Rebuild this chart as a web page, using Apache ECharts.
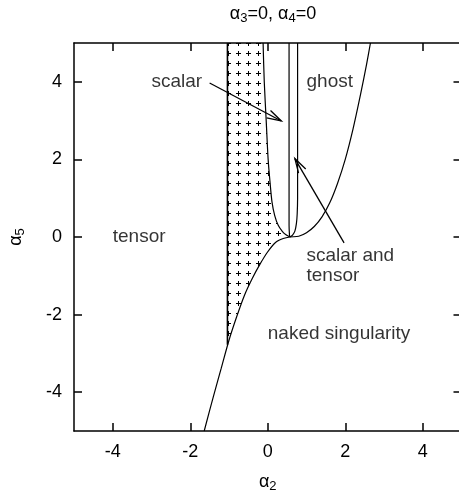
<!DOCTYPE html>
<html>
<head>
<meta charset="utf-8">
<script src="https://cdn.jsdelivr.net/npm/echarts@6/dist/echarts.min.js"></script>
<style>
html, body { margin: 0; padding: 0; background: #fff; }
#main { width: 459px; height: 497px; }
</style>
</head>
<body>
<div id="main"></div>
<script>
// tick positions on both axes
var tickValues = [-4, -2, 0, 2, 4];

// naked singularity boundary, bottom to top
var nakedCurve = [[-1.64, -5], [-1.4, -4.1], [-1.2, -3.38], [-1.0, -2.66], [-0.8, -2.05], [-0.6, -1.5],
  [-0.4, -1.07], [-0.2, -0.7], [0, -0.38], [0.2, -0.14], [0.4, -0.04], [0.57, 0],
  [0.8, 0.02], [1.0, 0.11], [1.2, 0.27], [1.4, 0.52], [1.6, 0.88], [1.8, 1.38],
  [2.0, 2.0], [2.2, 2.78], [2.4, 3.7], [2.55, 4.45], [2.65, 5]];
// right edge of the shaded (tensor+scalar) band
var scalarLeft = [[-0.12, 5], [-0.09, 4], [-0.04, 3], [0.01, 2], [0.06, 1.4], [0.11, 0.9],
  [0.18, 0.55], [0.27, 0.3], [0.38, 0.14], [0.48, 0.05], [0.57, 0]];
var scalarRight = [[0.55, 5], [0.55, 0.3], [0.56, 0.06], [0.57, 0]];
var ghostLeft = [[0.77, 5], [0.77, 1.0], [0.76, 0.6], [0.74, 0.35], [0.7, 0.15], [0.64, 0.05], [0.57, 0]];
// left edge of shaded band
var shadeEdge = [[-1.04, 5], [-1.04, -2.78]];

// arrows: from x,y  to x,y
var arrowLines = [[-1.5, 3.97, 0.35, 2.99], [1.97, -0.15, 0.70, 2.02]];

var labelText = ['tensor', 'naked singularity', 'ghost', 'scalar', 'scalar and\ntensor'];
var labelPos = [[-4, 0], [0, -2.5], [1, 4], [-3, 4], [1, -0.75]];

var FONT = 'Liberation Sans, Arial, Helvetica, sans-serif';

// polygon of the hatched region
var shadePoly = shadeEdge.concat(nakedCurve.filter(function (p) {
  return p[0] > -1.04 && p[0] <= 0.57 && p[1] <= 0;
})).concat(scalarLeft.slice().reverse());

// small "+" tile, repeated; plus drawn at (8,3) and wrapped copies
function plusPattern() {
  var c = document.createElement('canvas');
  c.width = 10; c.height = 10;
  var ctx = c.getContext('2d');
  ctx.fillStyle = '#000';
  [[8, 3], [-2, 3], [8, 13], [-2, 13]].forEach(function (p) {
    ctx.fillRect(p[0] - 2, p[1], 5, 1);
    ctx.fillRect(p[0], p[1] - 2, 1, 5);
  });
  return c;
}

function rich(size, sub) {
  return {
    a: { fontSize: size, fontWeight: 'normal', fontFamily: FONT, color: '#000', lineHeight: size + 2, verticalAlign: 'top' },
    s: { fontSize: sub, fontWeight: 'normal', fontFamily: FONT, color: '#000', lineHeight: sub, padding: [Math.round(size / 2), 0, 0, 0], verticalAlign: 'bottom' }
  };
}

var lineStyle = { color: '#000', width: 1.2 };
var axisLineStyle = { color: '#000', width: 1.5 };

function curve(data) {
  return {
    type: 'line', data: data, symbol: 'none', smooth: 0.3,
    lineStyle: lineStyle, silent: true, z: 3
  };
}

function mkAxis(pos, showLabel) {
  return {
    type: 'value', min: -5, max: 5, position: pos,
    axisLine: { show: true, onZero: false, lineStyle: axisLineStyle },
    axisTick: { show: true, inside: true, length: 8, customValues: tickValues, lineStyle: axisLineStyle },
    axisLabel: { show: showLabel, customValues: tickValues, fontSize: 18, fontFamily: FONT, color: '#000', margin: 12 },
    splitLine: { show: false }
  };
}

var chart = echarts.init(document.getElementById('main'));

var xAxes = [mkAxis('bottom', true), mkAxis('top', false)];
xAxes[0].name = '{a|α}{s|2}';
xAxes[0].nameLocation = 'middle';
xAxes[0].nameGap = 42;
xAxes[0].nameTextStyle = { fontSize: 18, fontFamily: FONT, color: '#000', rich: rich(18, 13) };

var yAxes = [mkAxis('left', true), mkAxis('right', false)];
yAxes[0].name = '{a|α}{s|5}';
yAxes[0].nameLocation = 'middle';
yAxes[0].nameGap = 47;
yAxes[0].nameRotate = 90;
yAxes[0].nameTextStyle = { fontSize: 18, fontFamily: FONT, color: '#000', rich: rich(18, 13) };

chart.setOption({
  animation: false,
  backgroundColor: '#fff',
  title: {
    text: '{a|α}{s|3}{a|=0, α}{s|4}{a|=0}',
    left: 268, top: 0, textAlign: 'center',
    textStyle: { fontWeight: 'normal', fontSize: 18, fontFamily: FONT, rich: rich(18, 13) }
  },
  grid: { left: 74, top: 43, width: 387.5, height: 388, containLabel: false, outerBoundsMode: 'none' },
  xAxis: xAxes,
  yAxis: yAxes,
  series: [
    {
      type: 'custom', data: [0], silent: true, z: 1,
      renderItem: function (params, api) {
        return {
          type: 'polygon',
          shape: { points: shadePoly.map(function (p) { return api.coord(p); }) },
          style: { fill: { image: plusPattern(), repeat: 'repeat' }, stroke: null }
        };
      }
    },
    curve(nakedCurve),
    curve(scalarLeft),
    curve(scalarRight),
    curve(ghostLeft),
    {
      type: 'line', data: shadeEdge, symbol: 'none', silent: true, z: 3,
      lineStyle: { color: '#000', width: 1.6 }
    },
    {
      type: 'custom', data: arrowLines, silent: true, z: 4,
      renderItem: function (params, api) {
        var p0 = api.coord([api.value(0), api.value(1)]);
        var p1 = api.coord([api.value(2), api.value(3)]);
        var ang = Math.atan2(p1[1] - p0[1], p1[0] - p0[0]);
        var len = 15, spread = 0.28;
        var h1 = [p1[0] - len * Math.cos(ang - spread), p1[1] - len * Math.sin(ang - spread)];
        var h2 = [p1[0] - len * Math.cos(ang + spread), p1[1] - len * Math.sin(ang + spread)];
        return {
          type: 'group',
          children: [
            { type: 'line', shape: { x1: p0[0], y1: p0[1], x2: p1[0], y2: p1[1] }, style: { stroke: '#000', lineWidth: 1.3 } },
            { type: 'polyline', shape: { points: [h1, p1, h2] }, style: { stroke: '#000', fill: null, lineWidth: 1.3 } }
          ]
        };
      }
    },
    {
      type: 'scatter', symbolSize: 0, silent: true, z: 5,
      data: labelPos.map(function (p, i) { return { value: p, name: labelText[i] }; }),
      label: {
        show: true, position: 'right', distance: 0, formatter: '{b}',
        fontSize: 19, fontFamily: FONT, color: '#000', lineHeight: 20
      }
    }
  ]
});
</script>
</body>
</html>
